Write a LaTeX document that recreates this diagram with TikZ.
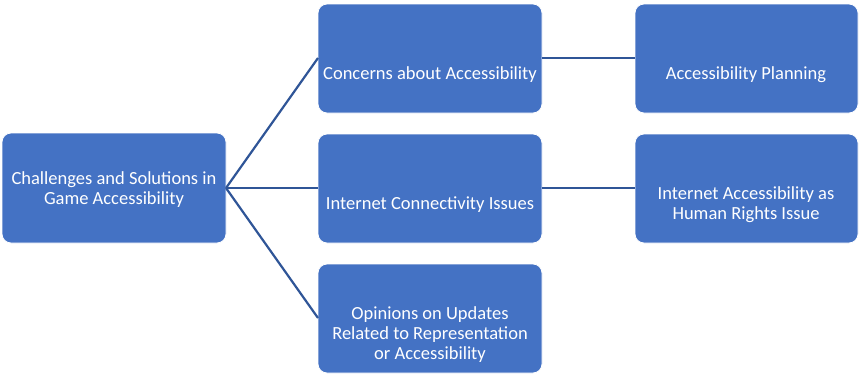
\documentclass[tikz,border=0pt]{standalone}
\usepackage{fontspec}
\setmainfont{Carlito}
\definecolor{boxblue}{HTML}{4472C4}
\definecolor{linkblue}{HTML}{2F5597}
\begin{document}
\begin{tikzpicture}[x=1pt,y=-1pt,
  box/.style={draw=white, line width=0.8pt, fill=boxblue, rounded corners=9pt},
  label/.style={text=white, align=center, font=\fontsize{18.5}{20}\selectfont, inner sep=0pt},
  link/.style={draw=linkblue, line width=2.2pt}]
\useasboundingbox (0,0) rectangle (859,375);
% boxes
\draw[box] (2,133) rectangle (226,243);
\draw[box] (318,4) rectangle (542,113);
\draw[box] (318,134) rectangle (542,243);
\draw[box] (318,264) rectangle (542,373);
\draw[box] (635,4) rectangle (858,113);
\draw[box] (635,134) rectangle (858,243);
% labels
\node[label] (root) at (114,190) {Challenges and Solutions in\\Game Accessibility};
\node[label] (m1) at (430,75) {Concerns about Accessibility};
\node[label] (m2) at (430,205) {Internet Connectivity Issues};
\node[label] (m3) at (430,335) {Opinions on Updates\\Related to Representation\\or Accessibility};
\node[label] (r1) at (746,75) {Accessibility Planning};
\node[label] (r2) at (746,205) {Internet Accessibility as\\Human Rights Issue};
% anchor coordinates
\coordinate (rootR) at (226,188);
\coordinate (m1L) at (318,58);
\coordinate (m2L) at (318,188);
\coordinate (m3L) at (318,318);
\coordinate (m1R) at (542,58);
\coordinate (m2R) at (542,188);
\coordinate (r1L) at (635,58);
\coordinate (r2L) at (635,188);
% connectors
\draw[link] (rootR) -- (m1L);
\draw[link] (rootR) -- (m2L);
\draw[link] (rootR) -- (m3L);
\draw[link] (m1R) -- (r1L);
\draw[link] (m2R) -- (r2L);
\end{tikzpicture}
\end{document}
